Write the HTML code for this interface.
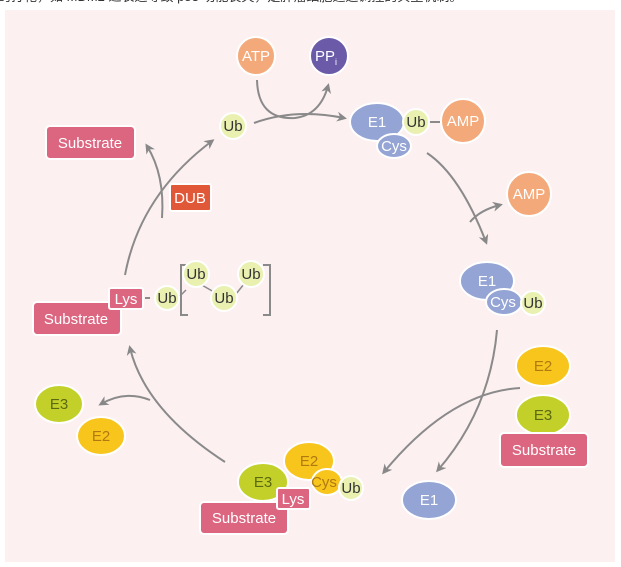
<!DOCTYPE html>
<html><head><meta charset="utf-8"><style>
html,body{margin:0;padding:0;background:#fff;width:621px;height:567px;overflow:hidden}
svg{display:block}
text{font-family:"Liberation Sans","DejaVu Sans",sans-serif}
</style></head><body>
<svg width="621" height="567" viewBox="0 0 621 567" xmlns="http://www.w3.org/2000/svg">
<defs><marker id="a" markerWidth="10" markerHeight="10" refX="7" refY="5" orient="auto" markerUnits="userSpaceOnUse"><path d="M0,0 L10,5 L0,10 L3,5 z" fill="#888"/></marker></defs>
<text x="-2" y="1" font-size="13" fill="#333" style="font-family:'Liberation Sans','Noto Sans CJK SC',sans-serif">的打靶，如 MDM2 过表达导致 p53 功能丧失，是肿瘤细胞逃逸调控的典型机制。</text>
<rect x="5" y="10" width="610" height="552" fill="#fcf0f1"/>
<g fill="none" stroke="#8a8a8a" stroke-width="2">
<path d="M257,80 Q258,120 295,118 Q320,115 328,86" marker-end="url(#a)"/>
<path d="M254,123 Q295,108 344,118" marker-end="url(#a)"/>
<path d="M427,153 Q460,175 486,242" marker-end="url(#a)"/>
<path d="M470,222 Q480,210 500,205" marker-end="url(#a)"/>
<path d="M497,330 Q490,410 438,470" marker-end="url(#a)"/>
<path d="M520,388 Q450,392 384,472" marker-end="url(#a)"/>
<path d="M225,462 Q145,410 130,348" marker-end="url(#a)"/>
<path d="M150,400 Q125,390 101,404" marker-end="url(#a)"/>
<path d="M125,275 Q140,195 212,141" marker-end="url(#a)"/>
<path d="M162,218 Q165,175 147,146" marker-end="url(#a)"/>
<path d="M145,298 H150"/>
<path d="M428,122 H440"/>
<path d="M188,265 H181 V315 H188 M263,265 H270 V315 H263" stroke-width="2"/>
<path d="M200,284 L214,292 M236,294 L244,284 M186,290 L180,296" stroke-width="1.5"/>
</g>
<g stroke="#fff" stroke-width="2">
<circle cx="256" cy="56" r="19" fill="#f4a97a"/>
<circle cx="329" cy="56" r="19" fill="#6a5aa8"/>
<circle cx="233" cy="126" r="13" fill="#eaf0b0"/>
<ellipse cx="377" cy="122" rx="27" ry="19" fill="#94a4d4"/>
<ellipse cx="394" cy="146" rx="17" ry="12" fill="#94a4d4"/>
<circle cx="416" cy="122" r="13" fill="#eaf0b0"/>
<circle cx="463" cy="121" r="22" fill="#f4a97a"/>
<circle cx="529" cy="194" r="22" fill="#f4a97a"/>
<ellipse cx="487" cy="281" rx="27" ry="19" fill="#94a4d4"/>
<ellipse cx="504" cy="302" rx="18" ry="13" fill="#94a4d4"/>
<circle cx="533" cy="303" r="12" fill="#eaf0b0"/>
<ellipse cx="543" cy="366" rx="27" ry="20" fill="#f8c51c"/>
<ellipse cx="543" cy="415" rx="27" ry="20" fill="#c4d02a"/>
<rect x="500" y="433" width="88" height="34" rx="4" fill="#dc6580"/>
<ellipse cx="429" cy="500" rx="27" ry="19" fill="#94a4d4"/>
<ellipse cx="263" cy="482" rx="25" ry="19" fill="#c4d02a"/>
<ellipse cx="309" cy="461" rx="25" ry="19" fill="#f8c51c"/>
<ellipse cx="327" cy="482" rx="15" ry="13" fill="#f8c51c"/>
<circle cx="351" cy="488" r="12" fill="#eaf0b0"/>
<rect x="200" y="502" width="88" height="32" rx="4" fill="#dc6580"/>
<rect x="277" y="488" width="33" height="21" rx="2" fill="#dc6580"/>
<ellipse cx="59" cy="404" rx="24" ry="19" fill="#c4d02a"/>
<ellipse cx="101" cy="436" rx="24" ry="19" fill="#f8c51c"/>
<rect x="46" y="126" width="89" height="33" rx="4" fill="#dc6580"/>
<rect x="170" y="184" width="41" height="27" rx="2" fill="#e05838"/>
<rect x="33" y="302" width="88" height="33" rx="4" fill="#dc6580"/>
<rect x="109" y="288" width="34" height="21" rx="2" fill="#dc6580"/>
<circle cx="167" cy="298" r="12" fill="#eaf0b0"/>
<circle cx="196" cy="274" r="13" fill="#eaf0b0"/>
<circle cx="251" cy="274" r="13" fill="#eaf0b0"/>
<circle cx="224" cy="298" r="13" fill="#eaf0b0"/>
</g>
<g font-size="15" text-anchor="middle" fill="#fff">
<text x="256" y="61">ATP</text>
<text x="326" y="61">PP<tspan font-size="9" dy="4">i</tspan></text>
<text x="377" y="127">E1</text>
<text x="394" y="151">Cys</text>
<text x="463" y="126">AMP</text>
<text x="529" y="199">AMP</text>
<text x="487" y="286">E1</text>
<text x="503" y="307">Cys</text>
<text x="544" y="455">Substrate</text>
<text x="429" y="505">E1</text>
<text x="293" y="504">Lys</text>
<text x="244" y="523">Substrate</text>
<text x="90" y="148">Substrate</text>
<text x="190" y="203">DUB</text>
<text x="126" y="304">Lys</text>
<text x="76" y="324">Substrate</text>
</g>
<g font-size="15" text-anchor="middle" fill="#333">
<text x="233" y="131">Ub</text>
<text x="416" y="127">Ub</text>
<text x="533" y="308">Ub</text>
<text x="351" y="493">Ub</text>
<text x="167" y="303">Ub</text>
<text x="196" y="279">Ub</text>
<text x="251" y="279">Ub</text>
<text x="224" y="303">Ub</text>
</g>
<g font-size="15" text-anchor="middle" fill="#b07a10">
<text x="543" y="371">E2</text>
<text x="309" y="466">E2</text>
<text x="324" y="487">Cys</text>
<text x="101" y="441">E2</text>
</g>
<g font-size="15" text-anchor="middle" fill="#5a6a10">
<text x="543" y="420">E3</text>
<text x="263" y="487">E3</text>
<text x="59" y="409">E3</text>
</g>
</svg>
</body></html>
